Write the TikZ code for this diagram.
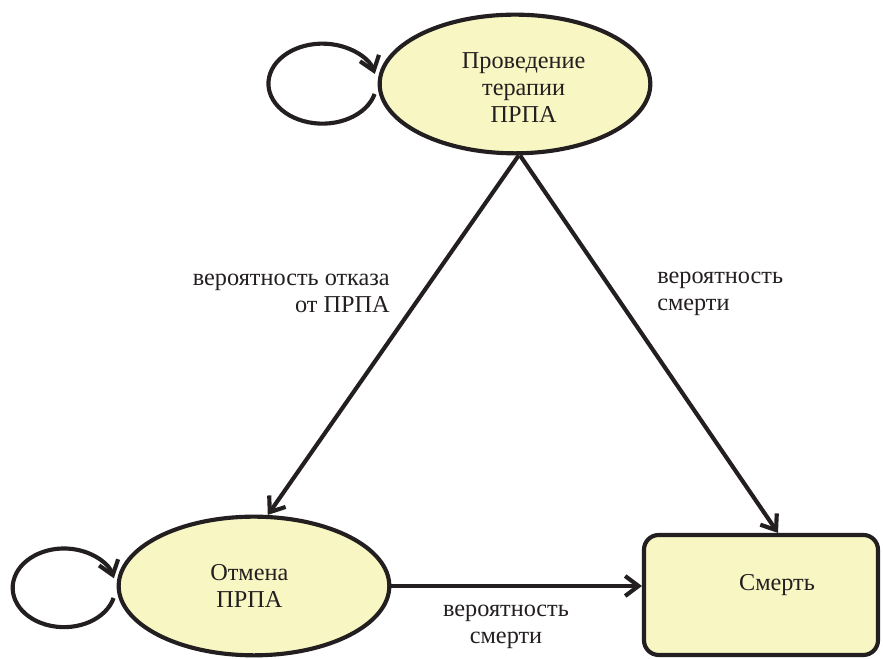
\documentclass[tikz,border=0pt]{standalone}
\usepackage{fontspec}
\setmainfont{Liberation Serif}
\usetikzlibrary{shapes.geometric,arrows.meta,calc}
\definecolor{stfill}{RGB}{248,246,195}
\definecolor{ink}{RGB}{35,31,32}
\begin{document}
\begin{tikzpicture}[x=0.75pt,y=0.75pt,
  font=\fontsize{18.2pt}{20.25pt}\selectfont,
  every node/.style={text=ink},
  state/.style={ellipse,draw=ink,line width=3.1pt,fill=stfill,minimum width=203pt,minimum height=104pt,inner sep=0pt},
  endbox/.style={rectangle,rounded corners=11pt,draw=ink,line width=3.1pt,fill=stfill,minimum width=175.5pt,minimum height=90pt,inner sep=0pt},
  arr/.style={draw=ink,line width=3.1pt,-{Straight Barb[length=10pt,width=15pt,line width=3.1pt]}},
  lab/.style={inner sep=0pt}]
\useasboundingbox (0,0) rectangle (883,659);
\node[state,label={[lab,align=center,xshift=6.5pt,yshift=-3pt]center:Проведение\\терапии\\ПРПА}] (A) at (515,575) {};
\node[state,label={[lab,align=center,xshift=-3.5pt]center:Отмена\\ПРПА}] (B) at (254,73) {};
\node[endbox,label={[lab,xshift=12pt,yshift=7.5pt]center:Смерть}] (R) at (761,64) {};
% self loops
\draw[arr] ($(A.west)+(-3,-10)$) arc[start angle=-15,end angle=-346,x radius=40.5pt,y radius=30pt];
\draw[arr] ($(B.west)+(-3,-12)$) arc[start angle=-15,end angle=-346,x radius=38.5pt,y radius=29.5pt];
% transitions
\draw[arr] (A.-87) -- (B.79);
\draw[arr] (A.-86) -- ($(R.north)+(17,0)$);
\draw[arr] (B.east) -- (B.east -| R.west);
% labels
\node[lab,anchor=east,align=right] (l1) at (390,365.5) {вероятность отказа\\от ПРПА};
\node[lab,anchor=west,align=left] (l2) at (657,365.5) {вероятность\\смерти};
\node[lab,align=center] (l3) at (506,32.5) {вероятность\\смерти};
\end{tikzpicture}
\end{document}
